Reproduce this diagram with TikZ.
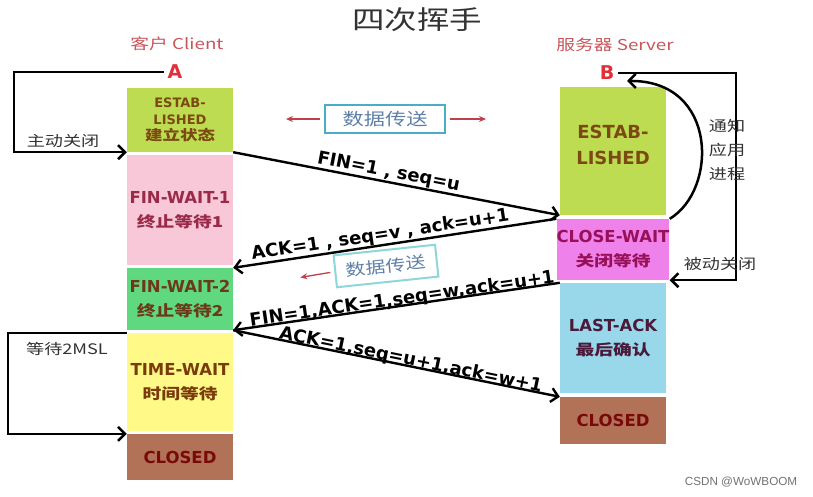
\documentclass[tikz,border=0pt]{standalone}
\usepackage{fontspec}
\setmainfont{DejaVu Sans}
\newfontfamily\cjk[FakeStretch=1.25]{Noto Sans CJK SC}
\newfontfamily\wmfont{Liberation Sans}
\usetikzlibrary{arrows.meta}

\definecolor{titlegray}{HTML}{333333}
\definecolor{rosered}{HTML}{C8555A}
\definecolor{letterred}{HTML}{E0303A}
\definecolor{boxblue}{HTML}{4BACC6}
\definecolor{boxcyan}{HTML}{8ED6DA}
\definecolor{boxtext}{HTML}{5F7FA8}
\definecolor{arrowred}{HTML}{C0404A}
% block fills
\definecolor{estfill}{HTML}{BEDC52}
\definecolor{fwonefill}{HTML}{F8C8D8}
\definecolor{fwtwofill}{HTML}{60D880}
\definecolor{twfill}{HTML}{FFFA88}
\definecolor{clfill}{HTML}{B27258}
\definecolor{cwfill}{HTML}{EE82EA}
\definecolor{lafill}{HTML}{98D8EA}
% block texts
\definecolor{esttext}{HTML}{7B4A12}
\definecolor{fwonetext}{HTML}{9A2A4A}
\definecolor{fwtwotext}{HTML}{6B3A1A}
\definecolor{twtext}{HTML}{7A3A0A}
\definecolor{cltext}{HTML}{7A0A0A}
\definecolor{cwtext}{HTML}{98105A}
\definecolor{latext}{HTML}{4A1A3A}

\newcommand\zhline[1]{{\cjk\fontsize{15}{24}\selectfont #1}}

\tikzset{
  block/.style={minimum width=106pt, inner sep=0pt, align=center,
    font=\bfseries\fontsize{16.5}{24}\selectfont},
  msg/.style={line width=2.4pt, -{Straight Barb[length=7pt,width=14pt]}},
  msglabel/.style={sloped, above, inner sep=0pt, font=\bfseries\fontsize{18}{18}\selectfont},
  loopline/.style={line width=2.5pt, -{Straight Barb[length=7pt,width=14pt]}},
  sidelabel/.style={font=\cjk\fontsize{14.5}{24}\selectfont, text=black!80, align=center},
  databox/.style={draw=boxblue, line width=2pt, minimum width=120pt, minimum height=28pt,
    inner sep=0pt, text=boxtext, font=\cjk\fontsize{17}{17}\selectfont},
  dataarrow/.style={draw=arrowred, line width=1.3pt, -{Stealth[length=7pt,width=6pt]}},
}

\begin{document}
\begin{tikzpicture}[x=1pt, y=-1pt]
\fill[white] (0,0) rectangle (813,496);

% title and column heads
\node[font=\cjk\fontsize{26}{26}\selectfont, text=titlegray] (title) at (417,20) {四次挥手};
\node[font=\cjk\fontsize{15}{15}\selectfont, text=rosered] (cName) at (177,44) {客户 Client};
\node[font=\cjk\fontsize{15}{15}\selectfont, text=rosered] (sName) at (615,45) {服务器 Server};
\node[font=\bfseries\fontsize{19}{19}\selectfont, text=letterred] (A) at (175,72) {A};
\node[font=\bfseries\fontsize{19}{19}\selectfont, text=letterred] (B) at (607,73) {B};

% client states
\node[block, fill=estfill, minimum height=64pt, text=esttext,
  font=\bfseries\fontsize{13}{16.5}\selectfont] (cEst) at (180,120)
  {ESTAB-\\LISHED\\{\cjk\fontsize{14}{16.5}\selectfont 建立状态}};
\node[block, fill=fwonefill, minimum height=110pt, text=fwonetext] (cFw1) at (180,210)
  {FIN-WAIT-1\\\zhline{终止等待1}};
\node[block, fill=fwtwofill, minimum height=62pt, text=fwtwotext] (cFw2) at (180,299)
  {FIN-WAIT-2\\\zhline{终止等待2}};
\node[block, fill=twfill, minimum height=98pt, text=twtext] (cTw) at (180,382)
  {TIME-WAIT\\\zhline{时间等待}};
\node[block, fill=clfill, minimum height=46pt, text=cltext] (cCl) at (180,457) {CLOSED};

% server states
\node[block, fill=estfill, minimum height=128pt, text=esttext, text depth=12pt,
  font=\bfseries\fontsize{18}{26}\selectfont] (sEst) at (613,151) {ESTAB-\\LISHED};
\node[block, fill=cwfill, minimum height=61pt, text=cwtext] (sCw) at (613,249.5)
  {CLOSE-WAIT\\\zhline{关闭等待}};
\node[block, fill=lafill, minimum height=110pt, text=latext] (sLa) at (613,338)
  {LAST-ACK\\\zhline{最后确认}};
\node[block, fill=clfill, minimum height=47pt, text=cltext] (sCl) at (613,420.5) {CLOSED};

% data transfer boxes
\node[databox] (dt1) at (385,119) {数据传送};
\draw[dataarrow] (dt1.west) ++(-4,0) -- ++(-34,0);
\draw[dataarrow] (dt1.east) ++(4,0) -- ++(36,0);
\node[databox, draw=boxcyan, minimum width=102pt, minimum height=32pt, rotate=6,
  font=\cjk\fontsize{16}{16}\selectfont] (dt2) at (386,266) {数据传送};
\draw[dataarrow] (dt2.west) ++(-4,1) -- ++(-30,5);

% messages
\draw[msg] (cEst.south east) -- (sEst.south west)
  node[msglabel, pos=0.47] {FIN=1 , seq=u};
\draw[msg] (sCw.north west) -- (cFw2.north east)
  node[msglabel, pos=0.54] {ACK=1 , seq=v , ack=u+1};
\draw[msg] (sLa.north west) -- (cFw2.south east)
  node[msglabel, pos=0.48, above=-4pt] {FIN=1,ACK=1,seq=w,ack=u+1};
\draw[msg] (cFw2.south east) -- (sCl.north west)
  node[msglabel, pos=0.54, above=-4pt] {ACK=1,seq=u+1,ack=w+1};

% side loops
\coordinate (lA) at (14,100);
\coordinate (rB) at (736,150);
\coordinate (lT) at (8,380);
\coordinate (bTip) at (627,81);
\draw[loopline] (A.west) -| (lA) |- (cEst.south west);
\node[sidelabel] (active) at (63,141) {主动关闭};
\draw[loopline] (B.east) -| (rB) |- (sCw.south east);
\node[sidelabel] (passive) at (720,264) {被动关闭};
\draw[loopline] (cTw.north west) -| (lT) |- (cCl.north west);
\node[sidelabel] (wait) at (67,349) {等待2MSL};
\draw[loopline] (sCw.north east) .. controls (718,190) and (718,80) .. (bTip);
\node[sidelabel] (notify) at (727,150) {通知\\应用\\进程};

% watermark
\node[font=\wmfont\fontsize{11.7}{11.7}\selectfont, text=black!55] (wm) at (741,482) {CSDN @WoWBOOM};
\end{tikzpicture}
\end{document}
